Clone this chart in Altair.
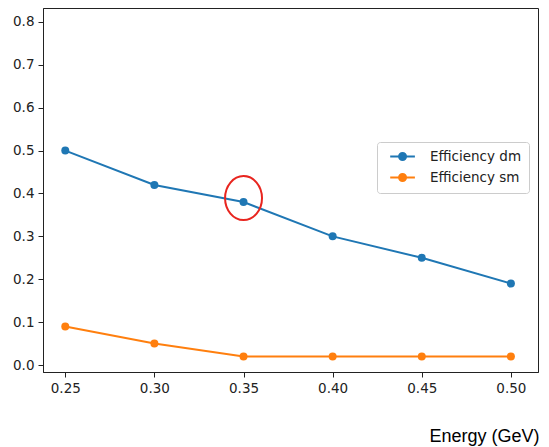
import altair as alt
import pandas as pd

energy = [0.25, 0.30, 0.35, 0.40, 0.45, 0.50]
eff_dm = [0.50, 0.42, 0.38, 0.30, 0.25, 0.19]
eff_sm = [0.09, 0.05, 0.02, 0.02, 0.02, 0.02]
series_names = ["Efficiency dm", "Efficiency sm"]
series_colors = ["#1f77b4", "#ff7f0e"]
highlight_energy = [0.35]
highlight_eff = [0.38]
y_ticks = [0.0, 0.1, 0.2, 0.3, 0.4, 0.5, 0.6, 0.7, 0.8]

rows = []
for name, vals in zip(series_names, [eff_dm, eff_sm]):
    for e, v in zip(energy, vals):
        rows.append({"energy": e, "eff": v, "series": name})
df = pd.DataFrame(rows)
hl = pd.DataFrame({"energy": highlight_energy, "eff": highlight_eff})

xs = alt.Scale(domain=[0.2375, 0.5152], nice=False, zero=False)
ys = alt.Scale(domain=[-0.0163, 0.8326], nice=False, zero=False)

legend_symbol = "M-0.2,0L3.6,0M2.24,0A0.54,0.54,0,1,1,1.16,0A0.54,0.54,0,1,1,2.24,0Z"

color = alt.Color(
    "series:N",
    scale=alt.Scale(domain=series_names, range=series_colors),
    legend=alt.Legend(
        title=None, orient="none", legendX=334, legendY=134,
        strokeColor="#cccccc", fillColor="white", cornerRadius=3, padding=7,
        labelFont="DejaVu Sans", labelFontSize=13.5, labelColor="#222",
        symbolType=legend_symbol, symbolSize=169, symbolStrokeWidth=2,
        rowPadding=4, labelOffset=31,
    ),
)

x = alt.X("energy:Q", scale=xs,
          axis=alt.Axis(values=energy, format=".2f", title="Energy (GeV)",
                        labelFont="DejaVu Sans", labelFontSize=13.5,
                        titleX=496, titleY=69, titleAlign="right",
                        titleBaseline="alphabetic", titleFont="Liberation Sans",
                        titleFontSize=18, titleFontWeight="normal", titleColor="#000",
                        titleAnchor="end"))
y = alt.Y("eff:Q", scale=ys,
          axis=alt.Axis(values=y_ticks, format=".1f", title=None,
                        labelFont="DejaVu Sans", labelFontSize=13.5))

line = alt.Chart(df).mark_line(strokeWidth=2).encode(x=x, y=y, color=color)
pts = alt.Chart(df).mark_point(filled=True, size=64, opacity=1).encode(x=x, y=y, color=color)

ellipse = "M-0.84,-0.18A0.84,1,0,1,1,0.84,-0.18A0.84,1,0,1,1,-0.84,-0.18Z"
ring = alt.Chart(hl).mark_point(
    shape=ellipse, size=1936, filled=False, stroke="#e8251f", strokeWidth=2, opacity=1
).encode(x=alt.X("energy:Q", scale=xs), y=alt.Y("eff:Q", scale=ys))

chart = alt.layer(line, pts, ring).properties(
    width=495, height=364,
    padding={"left": 35, "top": 0, "right": 3, "bottom": 75},
    autosize=alt.AutoSizeParams(type="none"),
).configure_view(
    stroke="#222", strokeWidth=1
).configure_axis(
    grid=False, domainColor="#222", tickColor="#222", tickSize=5,
    labelColor="#222", labelPadding=4,
)

chart.save("out.html", embed_options={"renderer": "svg", "actions": False})
